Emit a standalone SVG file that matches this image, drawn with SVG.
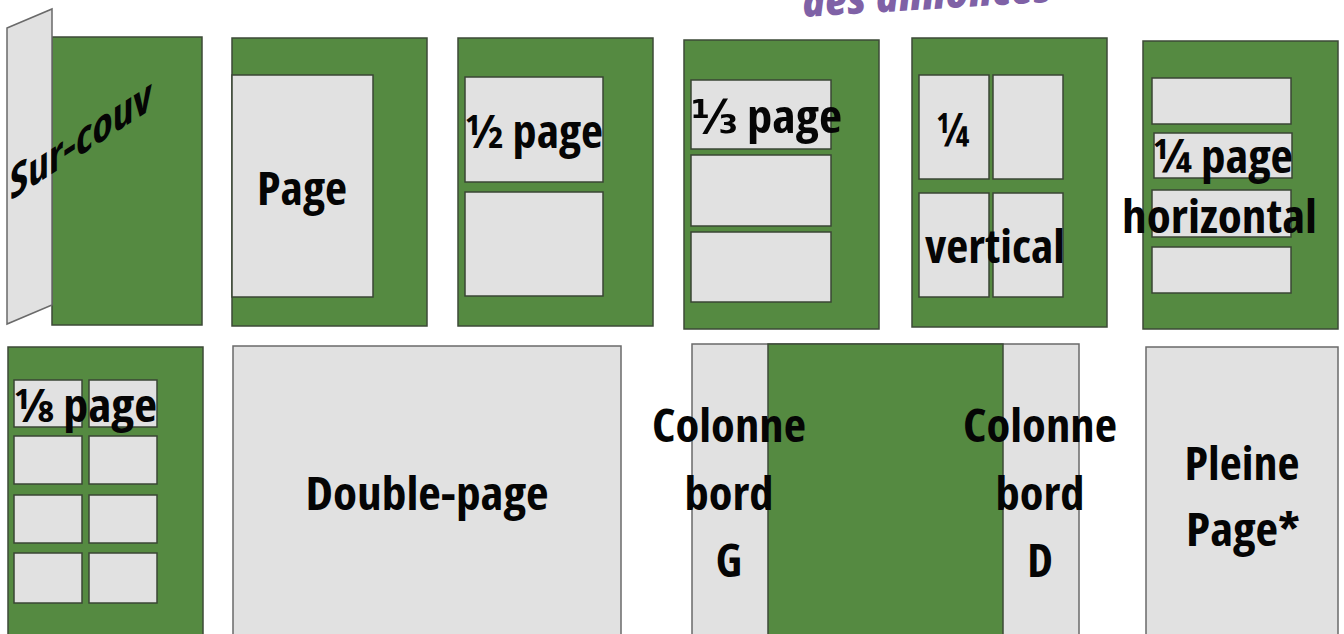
<svg xmlns="http://www.w3.org/2000/svg" width="1344" height="634" viewBox="0 0 1344 634">
<style>
.bg{fill:#ffffff}
.g{fill:#558a41;stroke:#3d4a37;stroke-width:1.5}
.l{fill:#e1e1e1;stroke:#3a4634;stroke-width:1.5}
.lo{fill:#e1e1e1;stroke:#6a6a6a;stroke-width:1.5}
.t{font-family:"Open Sans","DejaVu Sans",sans-serif;font-weight:bold;font-size:46px;fill:#050505;font-stretch:condensed}
.tm{text-anchor:middle}
.p{font-family:"Open Sans","DejaVu Sans",sans-serif;font-weight:800;font-style:italic;font-size:42px;fill:#7f61a6}
</style>
<rect class="bg" x="0" y="0" width="1344" height="634"/>
<text class="p" transform="translate(803,17) rotate(-3.5)" x="0" y="0" textLength="250" lengthAdjust="spacingAndGlyphs">des annonces</text>

<g id="sur-couv">
<rect class="g" x="52" y="37" width="150" height="288"/>
<polygon class="lo" points="7,28 52,9 52,305 7,324"/>
<text class="t" font-size="46" transform="translate(10,201) skewY(-33)" x="0" y="0" textLength="142" lengthAdjust="spacingAndGlyphs">Sur-couv</text>
</g>

<g id="page">
<rect class="g" x="232" y="38" width="195" height="288"/>
<rect class="l" x="232" y="75" width="141" height="222"/>
<text class="t tm" x="302" y="205" textLength="90" lengthAdjust="spacingAndGlyphs">Page</text>
</g>

<g id="demi-page">
<rect class="g" x="458" y="38" width="195" height="288"/>
<rect class="l" x="465" y="77" width="138" height="105"/>
<rect class="l" x="465" y="192" width="138" height="104"/>
<text class="t" x="465" y="148" textLength="138" lengthAdjust="spacingAndGlyphs">½ page</text>
</g>

<g id="tiers-page">
<rect class="g" x="684" y="40" width="195" height="289"/>
<rect class="l" x="691" y="80" width="140" height="69"/>
<rect class="l" x="691" y="155" width="140" height="71"/>
<rect class="l" x="691" y="232" width="140" height="70"/>
<text class="t" x="691" y="133" textLength="151" lengthAdjust="spacingAndGlyphs">⅓ page</text>
</g>

<g id="quart-vertical">
<rect class="g" x="912" y="38" width="195" height="289"/>
<rect class="l" x="919" y="75" width="70" height="104"/>
<rect class="l" x="993" y="75" width="70" height="104"/>
<rect class="l" x="919" y="193" width="70" height="104"/>
<rect class="l" x="993" y="193" width="70" height="104"/>
<text class="t tm" x="953" y="147" textLength="33" lengthAdjust="spacingAndGlyphs">¼</text>
<text class="t" x="925" y="263" textLength="140" lengthAdjust="spacingAndGlyphs">vertical</text>
</g>

<g id="quart-horizontal">
<rect class="g" x="1143" y="41" width="195" height="288"/>
<rect class="l" x="1152" y="78" width="139" height="46"/>
<rect class="l" x="1154" y="133" width="138" height="45"/>
<rect class="l" x="1152" y="190" width="139" height="47"/>
<rect class="l" x="1152" y="247" width="139" height="46"/>
<text class="t" x="1153" y="173" textLength="140" lengthAdjust="spacingAndGlyphs">¼ page</text>
<text class="t" x="1122" y="233" textLength="195" lengthAdjust="spacingAndGlyphs">horizontal</text>
</g>

<g id="huitieme-page">
<rect class="g" x="8" y="347" width="195" height="300"/>
<rect class="l" x="14" y="380" width="68" height="47"/>
<rect class="l" x="89" y="380" width="68" height="47"/>
<rect class="l" x="14" y="436" width="68" height="48"/>
<rect class="l" x="89" y="436" width="68" height="48"/>
<rect class="l" x="14" y="495" width="68" height="48"/>
<rect class="l" x="89" y="495" width="68" height="48"/>
<rect class="l" x="14" y="553" width="68" height="50"/>
<rect class="l" x="89" y="553" width="68" height="50"/>
<text class="t" x="14" y="422" textLength="143" lengthAdjust="spacingAndGlyphs">⅛ page</text>
</g>

<g id="double-page">
<rect class="lo" x="233" y="346" width="388" height="300"/>
<text class="t tm" x="427" y="510" textLength="243" lengthAdjust="spacingAndGlyphs">Double-page</text>
</g>

<g id="colonnes">
<rect class="lo" x="692" y="344" width="387" height="300"/>
<rect class="g" x="768" y="344" width="235" height="300"/>
<text class="t tm" x="729" y="442" textLength="154" lengthAdjust="spacingAndGlyphs">Colonne</text>
<text class="t tm" x="729" y="510" textLength="89" lengthAdjust="spacingAndGlyphs">bord</text>
<text class="t tm" x="729" y="577">G</text>
<text class="t tm" x="1040" y="442" textLength="154" lengthAdjust="spacingAndGlyphs">Colonne</text>
<text class="t tm" x="1040" y="510" textLength="89" lengthAdjust="spacingAndGlyphs">bord</text>
<text class="t tm" x="1040" y="577">D</text>
</g>

<g id="pleine-page">
<rect class="lo" x="1146" y="347" width="192" height="300"/>
<text class="t tm" x="1242" y="480" textLength="115" lengthAdjust="spacingAndGlyphs">Pleine</text>
<text class="t tm" x="1243" y="546" textLength="114" lengthAdjust="spacingAndGlyphs">Page*</text>
</g>
</svg>
